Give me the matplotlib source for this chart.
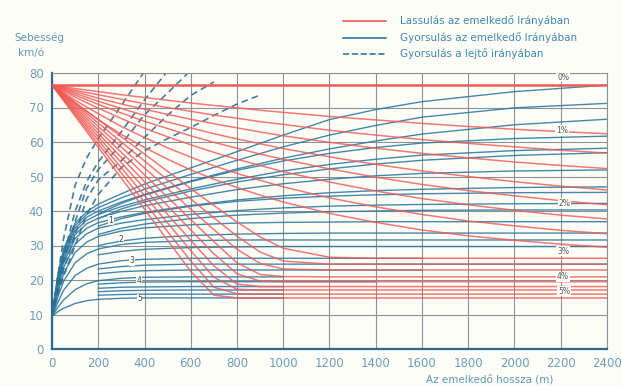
import numpy as np
import matplotlib
matplotlib.use("Agg")
import matplotlib.pyplot as plt
from matplotlib.lines import Line2D

nan = np.nan

# distance nodes (m)
red_dist = [0, 100, 200, 300, 400, 500, 600, 700, 800, 900, 1000, 1200, 1400, 1600, 1800, 2000, 2200, 2400]
blue_dist = [0, 25, 50, 100, 150, 200, 300, 400, 600, 800, 1000, 1200, 1400, 1600, 2000, 2400]
dash_dist = [0, 25, 50, 100, 150, 200, 300, 400, 500, 600, 700, 800, 900]

# deceleration uphill (km/h), one row per curve
red_speed_flat = [76.5] * 18
red_speeds = [
    [76.5, 75.5, 74.6, 73.7, 72.9, 72.1, 71.3, 70.6, 69.9, 69.2, 68.6, 67.4, 66.4, 65.4, 64.5, 63.7, 63.0, 62.4],
    [76.5, 75.0, 73.7, 72.4, 71.1, 70.0, 68.9, 67.8, 66.9, 65.9, 65.1, 63.4, 62.0, 60.7, 59.6, 58.6, 57.6, 56.8],
    [76.5, 74.6, 72.7, 71.0, 69.5, 68.0, 66.6, 65.3, 64.1, 62.9, 61.8, 59.9, 58.2, 56.7, 55.4, 54.2, 53.2, 52.3],
    [76.5, 74.1, 71.8, 69.7, 67.7, 65.8, 64.1, 62.4, 60.9, 59.5, 58.1, 55.7, 53.5, 51.6, 50.0, 48.5, 47.2, 46.1],
    [76.5, 73.6, 70.9, 68.4, 66.0, 63.9, 61.8, 59.9, 58.2, 56.5, 55.0, 52.2, 49.8, 47.7, 45.9, 44.4, 43.0, 41.8],
    [76.5, 73.0, 69.8, 66.8, 64.0, 61.5, 59.2, 57.0, 55.0, 53.2, 51.4, 48.4, 45.8, 43.6, 41.8, 40.2, 38.8, 37.7],
    [76.5, 72.1, 68.2, 64.5, 61.3, 58.3, 55.6, 53.1, 50.9, 48.9, 47.0, 43.8, 41.2, 39.0, 37.1, 35.7, 34.4, 33.4],
    [76.5, 71.2, 66.5, 62.2, 58.4, 55.0, 51.9, 49.2, 46.8, 44.6, 42.6, 39.3, 36.7, 34.5, 32.8, 31.5, 30.4, 29.5],
    [76.5, 71.5, 66.5, 61.5, 56.5, 51.5, 46.5, 41.6, 36.8, 32.5, 29.2, 26.6, 26.3, 26.3, 26.3, 26.3, 26.3, 26.3],
    [76.5, 71.0, 65.5, 60.0, 54.5, 49.0, 43.5, 38.0, 32.7, 28.1, 25.5, 24.6, 24.6, 24.6, 24.6, 24.6, 24.6, 24.6],
    [76.5, 70.5, 64.5, 58.5, 52.5, 46.5, 40.5, 34.6, 28.9, 24.8, 23.2, 22.9, 22.9, 22.9, 22.9, 22.9, 22.9, 22.9],
    [76.5, 70.0, 63.5, 57.0, 50.5, 44.0, 37.5, 31.1, 25.0, 21.6, 21.0, 20.9, 20.9, 20.9, 20.9, 20.9, 20.9, 20.9],
    [76.5, 69.5, 62.5, 55.5, 48.5, 41.5, 34.5, 27.6, 21.8, 19.7, 19.5, 19.5, 19.5, 19.5, 19.5, 19.5, 19.5, 19.5],
    [76.5, 69.0, 61.5, 54.0, 46.5, 39.0, 31.5, 24.1, 18.8, 18.1, 18.1, 18.1, 18.1, 18.1, 18.1, 18.1, 18.1, 18.1],
    [76.5, 68.5, 60.5, 52.5, 44.5, 36.5, 28.5, 20.8, 17.3, 17.1, 17.1, 17.1, 17.1, 17.1, 17.1, 17.1, 17.1, 17.1],
    [76.5, 68.0, 59.5, 51.0, 42.5, 34.0, 25.5, 17.9, 16.0, 15.9, 15.9, 15.9, 15.9, 15.9, 15.9, 15.9, 15.9, 15.9],
    [76.5, 67.5, 58.5, 49.5, 40.5, 31.5, 22.5, 15.6, 14.8, 14.8, 14.8, 14.8, 14.8, 14.8, 14.8, 14.8, 14.8, 14.8],
]

# acceleration uphill, curves starting at the foot of the grade
blue_from_start = [
    [9.5, 10.8, 11.8, 13.2, 14.0, 14.4, 14.7, 14.8, 14.8, 14.8, 14.8, nan, nan, nan, nan, nan],
    [9.5, 12.0, 14.2, 17.2, 18.9, 19.8, 20.5, 20.8, 20.9, 20.9, 20.9, nan, nan, nan, nan, nan],
    [9.5, 13.5, 17.0, 21.3, 23.4, 24.6, 25.6, 26.0, 26.3, 26.3, 26.3, 26.3, 26.3, 26.3, nan, nan],
    [9.5, 15.0, 19.6, 25.0, 27.6, 29.0, 30.3, 30.9, 31.4, 31.6, 31.6, 31.6, 31.6, 31.6, 31.6, 31.6],
    [9.5, 16.3, 21.8, 28.0, 31.0, 32.6, 34.2, 35.1, 36.0, 36.5, 36.7, 36.8, 36.9, 36.9, 36.9, 36.9],
    [9.5, 17.5, 23.6, 30.4, 33.4, 35.0, 36.5, 37.5, 39.0, 40.1, 40.9, 41.4, 41.7, 41.9, 42.1, 42.2],
    [9.5, 18.5, 25.0, 32.0, 35.0, 36.6, 38.3, 39.6, 41.6, 43.2, 44.4, 45.3, 45.9, 46.3, 46.8, 47.0],
    [9.5, 19.3, 26.0, 33.2, 36.3, 37.9, 39.9, 41.5, 44.0, 46.2, 47.9, 49.2, 50.2, 50.9, 51.6, 51.9],
    [9.5, 20.0, 26.8, 34.2, 37.3, 39.0, 41.3, 43.2, 46.4, 49.2, 51.6, 53.5, 55.0, 56.2, 57.5, 58.2],
    [9.5, 20.5, 27.5, 35.0, 38.2, 40.0, 42.6, 44.8, 48.7, 52.2, 55.3, 58.0, 60.3, 62.3, 65.0, 66.6],
    [9.5, 21.0, 28.3, 35.8, 39.0, 41.0, 43.8, 46.3, 50.6, 54.7, 58.6, 62.0, 64.8, 67.2, 69.9, 71.2],
    [9.5, 21.5, 29.0, 36.5, 39.8, 42.0, 45.0, 47.8, 52.5, 57.2, 62.0, 66.5, 69.4, 71.7, 74.6, 76.5],
]

# acceleration uphill, curves starting at 200 m
blue_from_200 = [
    [nan] * 5 + [15.6, 15.8, 15.9, 15.9, 15.9, 15.9, nan, nan, nan, nan, nan],
    [nan] * 5 + [16.6, 16.9, 17.0, 17.1, 17.1, 17.1, nan, nan, nan, nan, nan],
    [nan] * 5 + [17.6, 17.9, 18.0, 18.1, 18.1, 18.1, nan, nan, nan, nan, nan],
    [nan] * 5 + [18.8, 19.2, 19.4, 19.5, 19.5, 19.5, 19.5, 19.5, nan, nan, nan],
    [nan] * 5 + [21.8, 22.4, 22.7, 22.9, 22.9, 22.9, 22.9, 22.9, 22.9, nan, nan],
    [nan] * 5 + [23.2, 23.9, 24.3, 24.6, 24.6, 24.6, 24.6, 24.6, 24.6, 24.6, 24.6],
    [nan] * 5 + [27.3, 28.3, 28.9, 29.4, 29.6, 29.7, 29.7, 29.7, 29.7, 29.7, 29.7],
    [nan] * 5 + [30.0, 31.3, 32.1, 32.9, 33.3, 33.5, 33.6, 33.6, 33.6, 33.6, 33.6],
    [nan] * 5 + [33.2, 35.0, 36.2, 37.8, 38.8, 39.4, 39.8, 40.0, 40.2, 40.3, 40.3],
    [nan] * 5 + [35.6, 37.8, 39.3, 41.4, 42.8, 43.7, 44.3, 44.7, 45.0, 45.3, 45.4],
    [nan] * 5 + [37.8, 40.6, 42.6, 45.8, 48.4, 50.5, 52.2, 53.6, 54.7, 56.1, 56.9],
    [nan] * 5 + [39.2, 42.2, 44.6, 48.5, 51.8, 54.5, 56.7, 58.4, 59.7, 61.0, 61.7],
]

# acceleration downhill (dashed)
dash_speeds = [
    [9.5, 16.0, 21.0, 30.0, 39.0, 44.8, 52.6, 57.5, 61.0, 64.2, 67.7, 71.0, 73.6],
    [9.5, 17.0, 23.0, 33.0, 43.5, 49.0, 54.6, 61.3, 67.8, 73.5, 77.4, nan, nan],
    [9.5, 18.0, 25.0, 37.0, 46.6, 52.0, 59.4, 67.9, 74.2, 80.8, nan, nan, nan],
    [9.5, 19.0, 27.0, 40.0, 48.6, 54.2, 63.0, 72.2, 80.6, nan, nan, nan, nan],
    [9.5, 21.0, 32.0, 47.5, 55.4, 61.0, 70.6, 80.5, nan, nan, nan, nan, nan],
]

grade_labels = ["0%", "1%", "2%", "3%", "4%", "5%"]
grade_label_pos = [(2210, 78.8), (2205, 63.4), (2215, 42.2), (2210, 28.4), (2210, 20.9), (2215, 16.8)]
curve_labels = ["1", "2", "3", "4", "5"]
curve_label_pos = [(255, 37.3), (300, 31.8), (345, 25.6), (375, 19.8), (378, 14.6)]

x_ticks = list(range(0, 2401, 200))
y_ticks = list(range(0, 81, 10))

RED = "#f05a55"
BLUE = "#2f7aa3"
TXT = "#6f9db8"

fig = plt.figure(figsize=(6.22, 3.86), dpi=100)
fig.patch.set_facecolor("#fdfdf8")
ax = fig.add_axes([52 / 622, 37 / 386, 555 / 622, 276 / 386])
ax.set_facecolor("#fdfdf8")
ax.set_xlim(0, 2400)
ax.set_ylim(0, 80)

for x in x_ticks:
    ax.axvline(x, color="#8c9294", lw=0.8, zorder=1)
for y in y_ticks:
    ax.axhline(y, color="#8c9294", lw=0.8, zorder=1)

for row in blue_from_start:
    ax.plot(blue_dist, row, color=BLUE, lw=1.0, alpha=0.9, zorder=2)
for row in blue_from_200:
    ax.plot(blue_dist, row, color=BLUE, lw=1.0, alpha=0.9, zorder=2)
for row in dash_speeds:
    ax.plot(dash_dist, row, color="#2f6f95", lw=1.2, dashes=(4, 2.5), alpha=0.9, zorder=2)

ax.plot(red_dist, red_speed_flat, color=RED, lw=1.8, zorder=3)
for row in red_speeds:
    ax.plot(red_dist, row, color=RED, lw=1.1, alpha=0.82, zorder=3)

for lab, (x, y) in zip(grade_labels, grade_label_pos):
    ax.text(x, y, lab, fontsize=5.5, color="#555555", ha="center", va="center", zorder=5,
            bbox=dict(boxstyle="square,pad=0.1", fc="#fdfdf8", ec="none"))
for lab, (x, y) in zip(curve_labels, curve_label_pos):
    ax.text(x, y, lab, fontsize=5.5, color="#444444", ha="center", va="center", zorder=5,
            bbox=dict(boxstyle="square,pad=0.05", fc="#fdfdf8", ec="none"))

ax.set_xticks(x_ticks)
ax.set_yticks(y_ticks)
ax.tick_params(length=0, colors=TXT, labelsize=8.5, pad=6)
for side in ["left", "bottom"]:
    ax.spines[side].set_color("#2f6a8c")
    ax.spines[side].set_linewidth(1.6)
for side in ["top", "right"]:
    ax.spines[side].set_color("#8c9294")
    ax.spines[side].set_linewidth(0.8)

fig.text(14 / 622, 1 - 38 / 386, "Sebesség", fontsize=7.5, color="#5f97b6", va="center")
fig.text(18 / 622, 1 - 53 / 386, "km/ó", fontsize=7.5, color="#5f97b6", va="center")
fig.text(490 / 622, 1 - 380 / 386, "Az emelkedő hossza (m)", fontsize=7.5, color="#5f97b6",
         ha="center", va="center")

legend_rows = [
    ("Lassulás az emelkedő Irányában", RED, "-", 21),
    ("Gyorsulás az emelkedő Irányában", BLUE, "-", 38),
    ("Gyorsulás a lejtő irányában", BLUE, "--", 54),
]
for label, color, style, ypx in legend_rows:
    yf = 1 - ypx / 386
    fig.add_artist(Line2D([343 / 622, 386 / 622], [yf, yf], color=color, lw=1.2, ls=style,
                          transform=fig.transFigure))
    fig.text(400 / 622, yf, label, fontsize=7.5, color="#3f88b0", va="center")

fig.savefig("out.png", dpi=100, facecolor=fig.get_facecolor())
